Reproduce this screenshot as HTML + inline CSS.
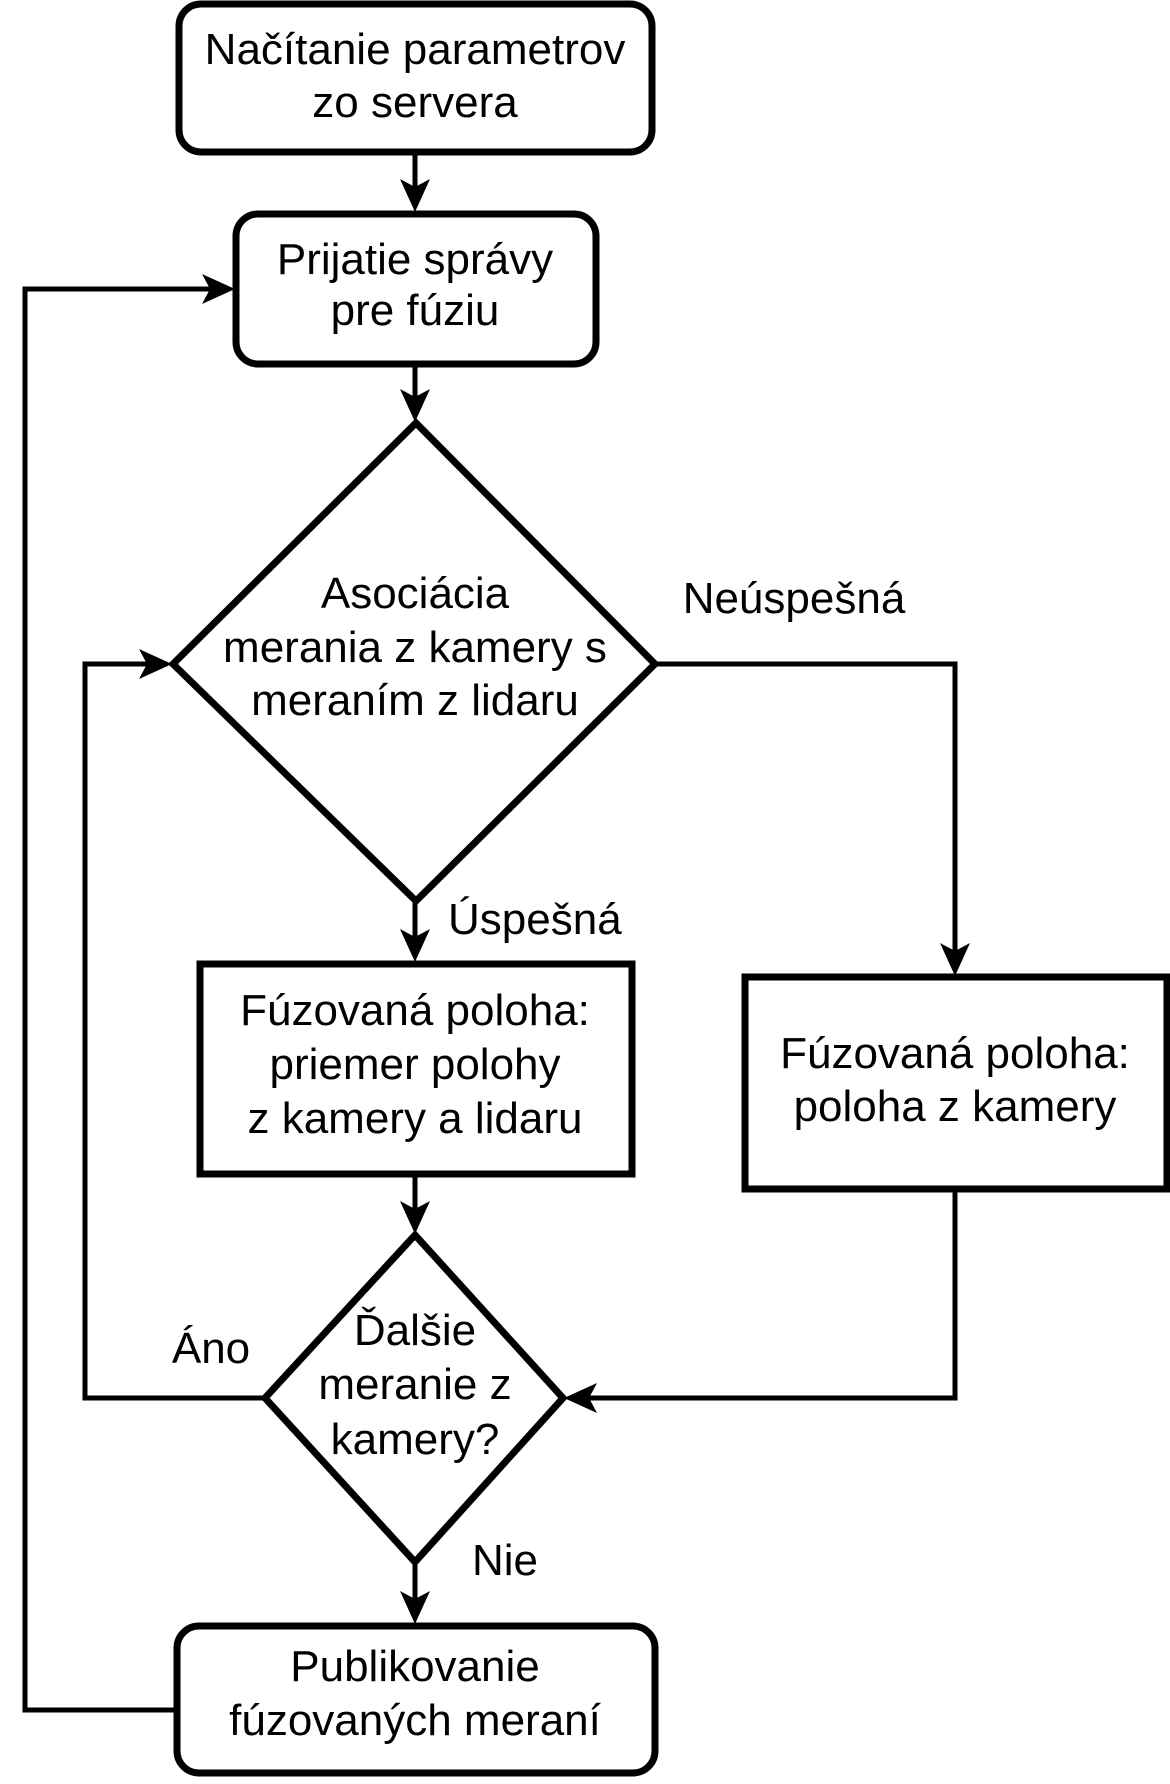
<!DOCTYPE html>
<html><head><meta charset="utf-8"><style>
html,body{margin:0;padding:0;background:#fff}
svg text{font-family:"Liberation Sans",sans-serif;font-size:44px;fill:#000}
</style></head><body>
<svg width="1170" height="1779" viewBox="0 0 1170 1779" xmlns="http://www.w3.org/2000/svg">
<g fill="none" stroke="#000" stroke-width="5">
<line x1="415" y1="153" x2="415" y2="200"/>
<line x1="415" y1="365" x2="415" y2="410"/>
<line x1="415" y1="902" x2="415" y2="950"/>
<line x1="415" y1="1175" x2="415" y2="1222"/>
<line x1="415" y1="1563" x2="415" y2="1612"/>
<polyline points="176,1710 25,1710 25,289 222,289"/>
<polyline points="264,1398 85,1398 85,664 160,664"/>
<polyline points="656,664 955,664 955,962"/>
<polyline points="955,1190 955,1398 578,1398"/>
</g>
<g fill="#000">
<polygon points="415,212 400,179 415,187 430,179"/>
<polygon points="415,422 400,389 415,397 430,389"/>
<polygon points="415,962 400,929 415,937 430,929"/>
<polygon points="415,1234 400,1201 415,1209 430,1201"/>
<polygon points="415,1624 400,1591 415,1599 430,1591"/>
<polygon points="235,289 202,274 210,289 202,304"/>
<polygon points="172,664 139,649 147,664 139,679"/>
<polygon points="955,976 940,943 955,951 970,943"/>
<polygon points="564,1398 597,1383 589,1398 597,1413"/>
</g>
<g fill="#fff" stroke="#000" stroke-width="7">
<rect x="179" y="4" width="473" height="148" rx="22"/>
<rect x="236" y="214" width="360" height="150" rx="22"/>
<polygon points="416,423 655,664 416,901 173,664"/>
<rect x="200" y="964" width="432" height="210"/>
<rect x="745" y="977" width="422" height="212"/>
<polygon points="415,1235 563,1398 415,1562 265,1398"/>
<rect x="177" y="1626" width="478" height="147" rx="22"/>
</g>
<g text-anchor="middle">
<text x="415" y="64">Načítanie parametrov</text>
<text x="415" y="117">zo servera</text>
<text x="415" y="274">Prijatie správy</text>
<text x="415" y="325">pre fúziu</text>
<text x="415" y="608">Asociácia</text>
<text x="415" y="662">merania z kamery s</text>
<text x="415" y="715">meraním z lidaru</text>
<text x="794" y="613">Neúspešná</text>
<text x="415" y="1025">Fúzovaná poloha:</text>
<text x="415" y="1079">priemer polohy</text>
<text x="415" y="1133">z kamery a lidaru</text>
<text x="955" y="1068">Fúzovaná poloha:</text>
<text x="955" y="1121">poloha z kamery</text>
<text x="415" y="1345">Ďalšie</text>
<text x="415" y="1399">meranie z</text>
<text x="415" y="1454">kamery?</text>
<text x="211" y="1363">Áno</text>
<text x="505" y="1575">Nie</text>
<text x="415" y="1681">Publikovanie</text>
<text x="415" y="1735">fúzovaných meraní</text>
</g>
<text x="448" y="934">Úspešná</text>
</svg>
</body></html>
